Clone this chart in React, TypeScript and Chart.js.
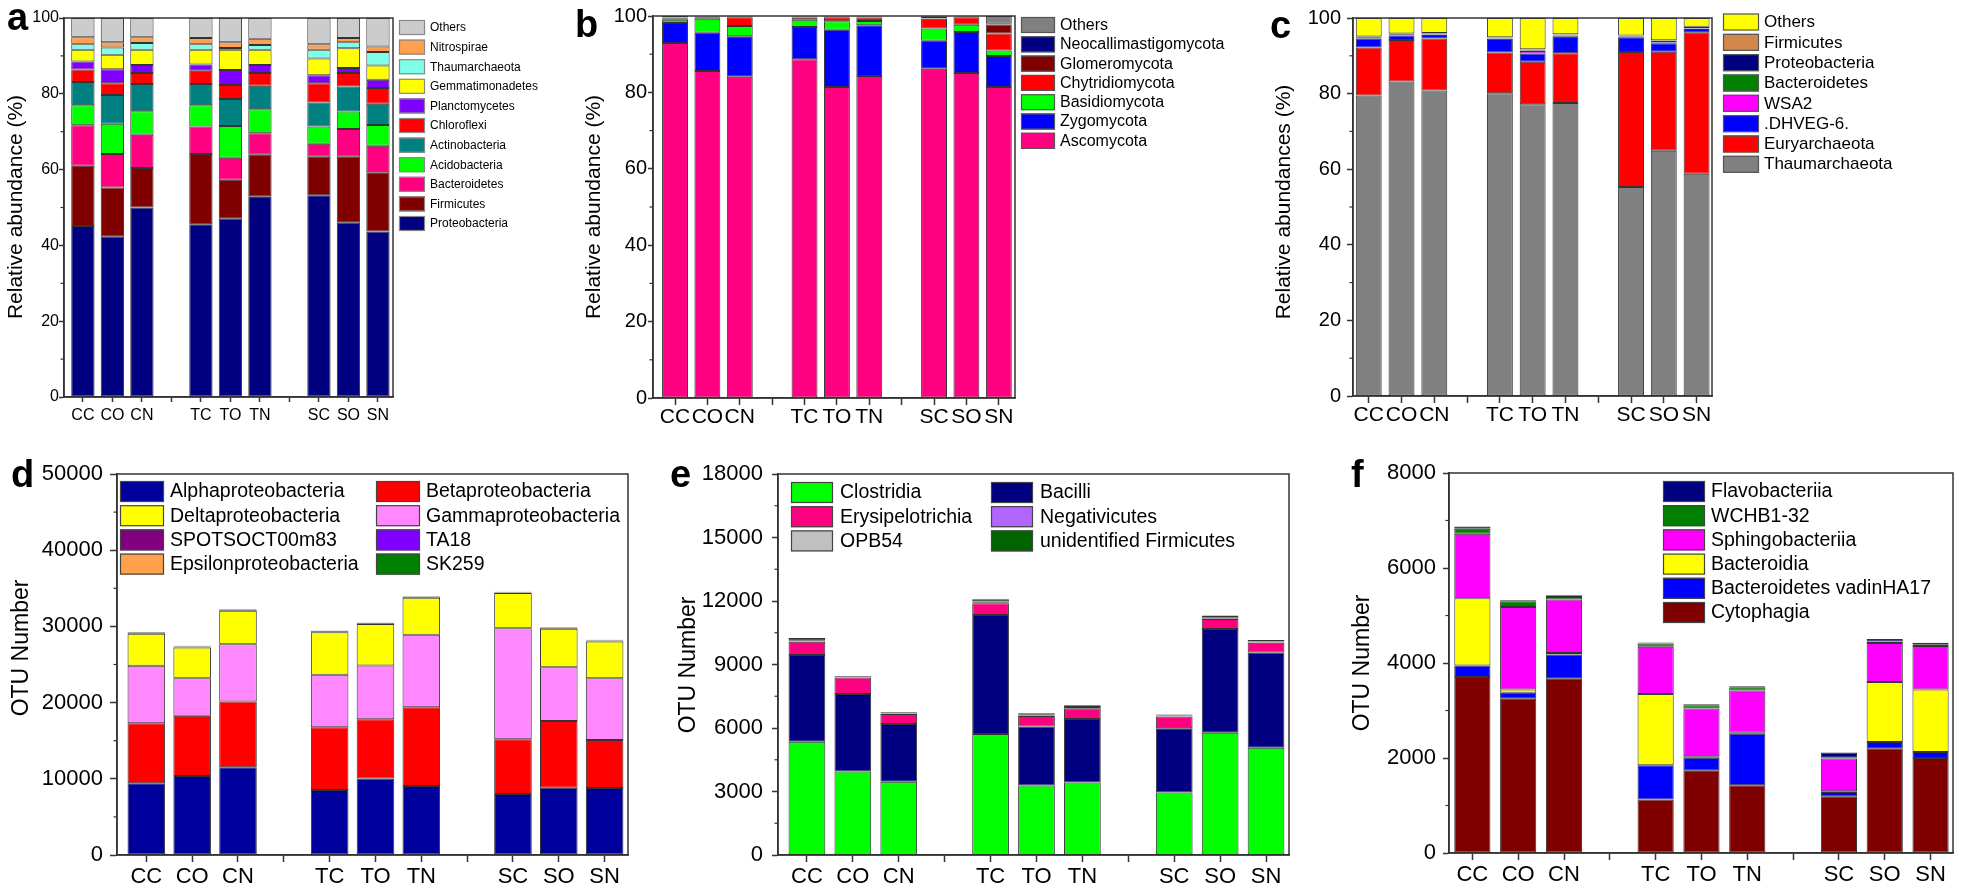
import React, { useEffect, useRef } from 'react';
import Chart from 'chart.js/auto';

// ---------- shared categories ----------
const tickLabels = ['CC', 'CO', 'CN', '', 'TC', 'TO', 'TN', '', 'SC', 'SO', 'SN'];
const positions: number[] = tickLabels
  .map((l, i) => (l ? i + 1 : -1))
  .filter((v) => v > 0);

// ---------- panel a (bacterial phyla, %) ----------
const aProteobacteria = [45.1, 42.3, 50.0, 45.6, 47.0, 53.0, 53.2, 46.0, 43.7];
const aFirmicutes = [15.9, 13.0, 10.4, 18.5, 10.3, 10.9, 10.2, 17.4, 15.6];
const aBacteroidetes = [10.7, 8.8, 8.8, 7.3, 5.8, 5.7, 3.4, 7.3, 7.0];
const aAcidobacteria = [5.3, 8.0, 6.2, 5.6, 8.4, 6.3, 4.6, 4.6, 5.5];
const aActinobacteria = [6.1, 7.6, 7.2, 5.6, 7.1, 6.2, 6.3, 6.6, 5.6];
const aChloroflexi = [3.3, 3.1, 2.9, 3.5, 3.7, 3.4, 5.1, 3.6, 4.1];
const aPlanctomycetes = [2.1, 3.7, 2.1, 1.6, 4.0, 2.1, 2.1, 1.3, 2.2];
const aGemmatimonadetes = [3.1, 3.8, 4.0, 3.9, 5.3, 4.0, 4.4, 5.2, 3.8];
const aThaumarchaeota = [1.5, 1.9, 1.8, 1.5, 0.5, 1.3, 2.3, 1.6, 3.5];
const aNitrospirae = [1.8, 1.4, 1.5, 1.6, 1.5, 1.6, 1.5, 1.1, 1.5];
const aOthers = [5.1, 6.4, 5.1, 5.3, 6.4, 5.5, 6.9, 5.3, 7.5];

// ---------- panel b (fungal phyla, %) ----------
const bAscomycota = [92.9, 85.6, 84.1, 88.7, 81.4, 84.3, 86.2, 85.1, 81.4];
const bZygomycota = [5.3, 10.0, 10.6, 8.4, 15.0, 13.3, 7.3, 10.7, 8.1];
const bBasidiomycota = [0.8, 3.7, 2.7, 1.9, 2.2, 1.1, 3.2, 1.9, 1.5];
const bChytridiomycota = [0.3, 0.4, 2.3, 0.6, 1.1, 0.9, 2.6, 2.0, 4.4];
const bGlomeromycota = [0.3, 0.1, 0.1, 0.2, 0.1, 0.2, 0.1, 0.1, 2.4];
const bNeocallimastigomycota = [0.1, 0.05, 0.1, 0.1, 0.1, 0.1, 0.4, 0.1, 0.2];
const bOthers = [0.3, 0.15, 0.1, 0.1, 0.1, 0.1, 0.2, 0.1, 2.0];

// ---------- panel c (archaeal, %) ----------
const cThaumarchaeota = [79.5, 83.2, 80.8, 80.1, 77.2, 77.5, 55.3, 64.9, 58.8];
const cEuryarchaeota = [12.7, 11.0, 13.8, 10.8, 11.2, 13.2, 35.7, 26.2, 37.4];
const cDHVEG6 = [2.4, 1.2, 0.9, 3.6, 2.2, 4.5, 3.9, 2.2, 0.9];
const cWSA2 = [0.1, 0.1, 0.1, 0.1, 0.7, 0.1, 0.1, 0.1, 0.1];
const cBacteroidetes = [0.1, 0.1, 0.1, 0.1, 0.1, 0.1, 0.1, 0.1, 0.1];
const cProteobacteria = [0.2, 0.2, 0.2, 0.1, 0.2, 0.2, 0.2, 0.5, 0.3];
const cFirmicutes = [0.1, 0.1, 0.1, 0.1, 0.1, 0.1, 0.1, 0.1, 0.1];
const cOthers = [4.9, 4.1, 4.0, 5.1, 8.3, 4.3, 4.6, 5.9, 2.3];

// ---------- panel d (Proteobacteria classes, OTU) ----------
const dAlpha = [9410, 10380, 11520, 8540, 10030, 9060, 8010, 8840, 8800];
const dBeta = [7880, 7880, 8620, 8230, 7790, 10330, 7180, 8760, 6300];
const dGamma = [7530, 4950, 7530, 6870, 7050, 9500, 14580, 7050, 8100];
const dDelta = [4200, 4030, 4380, 5600, 5430, 4860, 4600, 5040, 4820];
const dSPOTSOCT = [130, 120, 120, 120, 120, 120, 90, 120, 120];
const dTA18 = [40, 40, 40, 40, 40, 40, 30, 40, 40];
const dEpsilon = [20, 20, 20, 20, 20, 20, 15, 20, 20];
const dSK259 = [70, 40, 40, 40, 40, 40, 40, 40, 40];

// ---------- panel e (Firmicutes classes, OTU) ----------
const eClostridia = [5350, 3940, 3460, 5720, 3280, 3420, 2950, 5780, 5070];
const eBacilli = [4100, 3670, 2730, 5620, 2790, 3010, 3040, 4900, 4500];
const eErysipelotrichia = [630, 770, 470, 550, 500, 500, 550, 470, 460];
const eNegativicutes = [20, 15, 15, 30, 20, 20, 15, 25, 20];
const eOPB54 = [50, 25, 25, 60, 40, 45, 30, 55, 40];
const eUnidentified = [100, 40, 40, 100, 65, 75, 50, 90, 65];

// ---------- panel f (Bacteroidetes classes, OTU) ----------
const fCytophagia = [3705, 3250, 3670, 1125, 1740, 1425, 1195, 2195, 2000];
const fVadinHA17 = [245, 125, 510, 725, 265, 1085, 90, 140, 125];
const fBacteroidia = [1415, 65, 30, 1495, 30, 20, 15, 1265, 1315];
const fSphingobacteriia = [1355, 1740, 1125, 995, 1005, 890, 690, 820, 920];
const fWCHB = [105, 120, 55, 70, 70, 70, 15, 35, 35];
const fFlavobacteriia = [50, 20, 35, 20, 20, 20, 110, 50, 30];

// ---------- styling ----------
const FONT = "'Liberation Sans', Arial, Helvetica, sans-serif";

type Series = { label: string; values: number[]; color: string };
type Legend = {
  order: number[]; x: number; y: number; cols: number; colW: number; rowH: number;
  boxW: number; boxH: number; textOff: number; font: string; stroke: string;
};
type Panel = {
  letter: string;
  canvas: [number, number, number, number];
  plot: [number, number, number, number];
  xRange: [number, number];
  yMax: number; yStep: number; yMinor: number;
  barPct: number;
  series: Series[];
  xFont: { family: string; size: number };
  yFont: { family: string; size: number };
  xTl: number; xPad: number; yTl: number; yPad: number;
  title: string; titlePos: [number, number]; titleFont: string;
  letterPos: [number, number];
  legend: Legend;
};

const rev = (n: number) => Array.from({ length: n }, (_, i) => n - 1 - i);

const panels: Panel[] = [
  {
    letter: 'a', canvas: [0, 0, 560, 445], plot: [64, 18, 393, 397], xRange: [0.36, 11.51],
    yMax: 100, yStep: 20, yMinor: 10, barPct: 0.79,
    series: [
      { label: 'Proteobacteria', values: aProteobacteria, color: '#000080' },
      { label: 'Firmicutes', values: aFirmicutes, color: '#800000' },
      { label: 'Bacteroidetes', values: aBacteroidetes, color: '#FF0080' },
      { label: 'Acidobacteria', values: aAcidobacteria, color: '#00FF00' },
      { label: 'Actinobacteria', values: aActinobacteria, color: '#008080' },
      { label: 'Chloroflexi', values: aChloroflexi, color: '#FF0000' },
      { label: 'Planctomycetes', values: aPlanctomycetes, color: '#8000FF' },
      { label: 'Gemmatimonadetes', values: aGemmatimonadetes, color: '#FFFF00' },
      { label: 'Thaumarchaeota', values: aThaumarchaeota, color: '#80FFE8' },
      { label: 'Nitrospirae', values: aNitrospirae, color: '#FFA050' },
      { label: 'Others', values: aOthers, color: '#CCCCCC' },
    ],
    xFont: { family: FONT, size: 16 }, yFont: { family: FONT, size: 16 },
    xTl: 5, xPad: 4, yTl: 5, yPad: 0,
    title: 'Relative abundance (%)', titlePos: [16.5, 207], titleFont: `21px ${FONT}`,
    letterPos: [7, 30],
    legend: { order: rev(11), x: 399, y: 20, cols: 1, colW: 0, rowH: 19.6, boxW: 26, boxH: 15, textOff: 31, font: `12px ${FONT}`, stroke: '#888' },
  },
  {
    letter: 'b', canvas: [560, 0, 690, 445], plot: [653, 16, 1015, 398], xRange: [0.32, 11.5],
    yMax: 100, yStep: 20, yMinor: 10, barPct: 0.8,
    series: [
      { label: 'Ascomycota', values: bAscomycota, color: '#FF0080' },
      { label: 'Zygomycota', values: bZygomycota, color: '#0000FF' },
      { label: 'Basidiomycota', values: bBasidiomycota, color: '#00FF00' },
      { label: 'Chytridiomycota', values: bChytridiomycota, color: '#FF0000' },
      { label: 'Glomeromycota', values: bGlomeromycota, color: '#800000' },
      { label: 'Neocallimastigomycota', values: bNeocallimastigomycota, color: '#000080' },
      { label: 'Others', values: bOthers, color: '#808080' },
    ],
    xFont: { family: FONT, size: 21 }, yFont: { family: FONT, size: 20 },
    xTl: 7, xPad: 0, yTl: 5, yPad: 1,
    title: 'Relative abundance (%)', titlePos: [594, 207], titleFont: `21px ${FONT}`,
    letterPos: [575, 37],
    legend: { order: rev(7), x: 1021, y: 17, cols: 1, colW: 0, rowH: 19.3, boxW: 34, boxH: 16, textOff: 39, font: `16px ${FONT}`, stroke: '#555' },
  },
  {
    letter: 'c', canvas: [1250, 0, 711, 445], plot: [1353, 13, 1712, 396], xRange: [0.52, 11.47],
    yMax: 100, yStep: 20, yMinor: 10, barPct: 0.79,
    series: [
      { label: 'Thaumarchaeota', values: cThaumarchaeota, color: '#808080' },
      { label: 'Euryarchaeota', values: cEuryarchaeota, color: '#FF0000' },
      { label: '.DHVEG-6.', values: cDHVEG6, color: '#0000FF' },
      { label: 'WSA2', values: cWSA2, color: '#FF00FF' },
      { label: 'Bacteroidetes', values: cBacteroidetes, color: '#008000' },
      { label: 'Proteobacteria', values: cProteobacteria, color: '#000080' },
      { label: 'Firmicutes', values: cFirmicutes, color: '#D2884A' },
      { label: 'Others', values: cOthers, color: '#FFFF00' },
    ],
    xFont: { family: FONT, size: 21 }, yFont: { family: FONT, size: 20 },
    xTl: 7, xPad: 0, yTl: 6, yPad: 6,
    title: 'Relative abundances (%)', titlePos: [1284, 202], titleFont: `21px ${FONT}`,
    letterPos: [1270, 38],
    legend: { order: rev(8), x: 1723, y: 13.5, cols: 1, colW: 0, rowH: 20.33, boxW: 36, boxH: 17, textOff: 41, font: `17px ${FONT}`, stroke: '#555' },
  },
  {
    letter: 'd', canvas: [0, 445, 640, 445], plot: [117, 474, 628, 855], xRange: [0.36, 11.51],
    yMax: 50000, yStep: 10000, yMinor: 5000, barPct: 0.82,
    series: [
      { label: 'Alphaproteobacteria', values: dAlpha, color: '#00009C' },
      { label: 'Betaproteobacteria', values: dBeta, color: '#FF0000' },
      { label: 'Gammaproteobacteria', values: dGamma, color: '#FF88FF' },
      { label: 'Deltaproteobacteria', values: dDelta, color: '#FFFF00' },
      { label: 'SPOTSOCT00m83', values: dSPOTSOCT, color: '#800080' },
      { label: 'TA18', values: dTA18, color: '#8000FF' },
      { label: 'Epsilonproteobacteria', values: dEpsilon, color: '#FFA04C' },
      { label: 'SK259', values: dSK259, color: '#008000' },
    ],
    xFont: { family: FONT, size: 22 }, yFont: { family: FONT, size: 22 },
    xTl: 7, xPad: 2, yTl: 7, yPad: 7,
    title: 'OTU Number', titlePos: [22, 648], titleFont: `23px ${FONT}`,
    letterPos: [11, 487],
    legend: { order: [0, 1, 3, 2, 4, 5, 6, 7], x: 120, y: 481, cols: 2, colW: 256, rowH: 24.2, boxW: 44, boxH: 21, textOff: 50, font: `19.5px ${FONT}`, stroke: '#444' },
  },
  {
    letter: 'e', canvas: [640, 445, 660, 445], plot: [778, 474, 1289, 855], xRange: [0.37, 11.5],
    yMax: 18000, yStep: 3000, yMinor: 1500, barPct: 0.8,
    series: [
      { label: 'Clostridia', values: eClostridia, color: '#00FF00' },
      { label: 'Bacilli', values: eBacilli, color: '#000080' },
      { label: 'Erysipelotrichia', values: eErysipelotrichia, color: '#FF0080' },
      { label: 'Negativicutes', values: eNegativicutes, color: '#B266FF' },
      { label: 'OPB54', values: eOPB54, color: '#C0C0C0' },
      { label: 'unidentified Firmicutes', values: eUnidentified, color: '#006400' },
    ],
    xFont: { family: FONT, size: 22 }, yFont: { family: FONT, size: 22 },
    xTl: 7, xPad: 2, yTl: 6, yPad: 9,
    title: 'OTU Number', titlePos: [689, 665], titleFont: `23px ${FONT}`,
    letterPos: [670, 487],
    legend: { order: [0, 1, 2, 3, 4, 5], x: 791, y: 482, cols: 2, colW: 200, rowH: 24.2, boxW: 42, boxH: 21, textOff: 49, font: `19.5px ${FONT}`, stroke: '#444' },
  },
  {
    letter: 'f', canvas: [1300, 445, 661, 445], plot: [1449, 473, 1953, 853], xRange: [0.49, 11.49],
    yMax: 8000, yStep: 2000, yMinor: 1000, barPct: 0.79,
    series: [
      { label: 'Cytophagia', values: fCytophagia, color: '#800000' },
      { label: 'Bacteroidetes vadinHA17', values: fVadinHA17, color: '#0000FF' },
      { label: 'Bacteroidia', values: fBacteroidia, color: '#FFFF00' },
      { label: 'Sphingobacteriia', values: fSphingobacteriia, color: '#FF00FF' },
      { label: 'WCHB1-32', values: fWCHB, color: '#008000' },
      { label: 'Flavobacteriia', values: fFlavobacteriia, color: '#000080' },
    ],
    xFont: { family: FONT, size: 22 }, yFont: { family: FONT, size: 22 },
    xTl: 7, xPad: 2, yTl: 6, yPad: 7,
    title: 'OTU Number', titlePos: [1363, 663], titleFont: `23px ${FONT}`,
    letterPos: [1351, 487],
    legend: { order: rev(6), x: 1663, y: 481, cols: 1, colW: 0, rowH: 24.2, boxW: 42, boxH: 21, textOff: 48, font: `19.5px ${FONT}`, stroke: '#444' },
  },
];

// ---------- decoration plugin: frame, minor ticks, legend, titles ----------
const decoPlugin = {
  id: 'panelDeco',
  afterDraw(chart: any, _args: any, opts: any) {
    const p: Panel = opts.panel;
    if (!p) return;
    const ctx = chart.ctx as CanvasRenderingContext2D;
    const ox = p.canvas[0];
    const oy = p.canvas[1];
    const { left, top, right, bottom } = chart.chartArea;
    ctx.save();
    // frame
    ctx.strokeStyle = '#333';
    ctx.lineWidth = 1.5;
    ctx.strokeRect(left, top, right - left, bottom - top);
    // minor ticks
    const ys = chart.scales.y;
    ctx.lineWidth = 1.2;
    for (let v = p.yMinor; v < p.yMax; v += p.yMinor * 2) {
      const py = ys.getPixelForValue(v);
      ctx.beginPath();
      ctx.moveTo(left, py);
      ctx.lineTo(left - 3.5, py);
      ctx.stroke();
    }
    // legend
    const lg = p.legend;
    ctx.font = lg.font;
    ctx.textBaseline = 'middle';
    ctx.textAlign = 'left';
    lg.order.forEach((di, i) => {
      const ds = chart.data.datasets[di];
      const col = i % lg.cols;
      const row = Math.floor(i / lg.cols);
      const bx = lg.x - ox + col * lg.colW;
      const by = lg.y - oy + row * lg.rowH;
      ctx.fillStyle = ds.backgroundColor;
      ctx.fillRect(bx, by, lg.boxW, lg.boxH);
      ctx.strokeStyle = lg.stroke;
      ctx.lineWidth = 1.2;
      ctx.strokeRect(bx + 0.5, by + 0.5, lg.boxW - 1, lg.boxH - 1);
      ctx.fillStyle = '#000';
      ctx.fillText(ds.label, bx + lg.textOff, by + lg.boxH / 2 + 0.5);
    });
    // y title
    ctx.save();
    ctx.translate(p.titlePos[0] - ox, p.titlePos[1] - oy);
    ctx.rotate(-Math.PI / 2);
    ctx.font = p.titleFont;
    ctx.fillStyle = '#000';
    ctx.textAlign = 'center';
    ctx.textBaseline = 'middle';
    ctx.fillText(p.title, 0, 0);
    ctx.restore();
    // panel letter
    ctx.font = `bold 38px ${FONT}`;
    ctx.fillStyle = '#000';
    ctx.textAlign = 'left';
    ctx.textBaseline = 'alphabetic';
    ctx.fillText(p.letter, p.letterPos[0] - ox, p.letterPos[1] - oy);
    ctx.restore();
  },
};

function PanelChart({ p }: { p: Panel }) {
  const ref = useRef<HTMLCanvasElement | null>(null);
  useEffect(() => {
    if (!ref.current) return;
    const [cx, cy, cw, ch] = p.canvas;
    const [px0, py0, px1, py1] = p.plot;
    const yAxisW = px0 - cx;
    const xAxisH = cy + ch - py1;
    const chart = new Chart(ref.current, {
      type: 'bar',
      data: {
        datasets: p.series.map((s) => ({
          label: s.label,
          data: positions.map((x, i) => ({ x, y: s.values[i] })),
          backgroundColor: s.color,
          borderColor: '#333',
          borderWidth: 1,
          borderSkipped: false,
          barPercentage: 1,
          categoryPercentage: p.barPct,
        })),
      },
      options: {
        responsive: false,
        maintainAspectRatio: false,
        animation: false,
        devicePixelRatio: 1,
        events: [],
        layout: { padding: { left: 0, top: py0 - cy, right: cx + cw - px1, bottom: 0 } },
        plugins: {
          legend: { display: false },
          tooltip: { enabled: false },
          title: { display: false },
          panelDeco: { panel: p },
        } as any,
        scales: {
          x: {
            type: 'linear',
            min: p.xRange[0],
            max: p.xRange[1],
            offset: false,
            stacked: true,
            afterBuildTicks: (s: any) => {
              s.ticks = tickLabels.map((_, i) => ({ value: i + 1 }));
            },
            afterFit: (s: any) => {
              s.height = xAxisH;
            },
            ticks: {
              callback: (_v: any, i: number) => tickLabels[i],
              autoSkip: false,
              maxRotation: 0,
              minRotation: 0,
              padding: p.xPad,
              color: '#000',
              font: { family: p.xFont.family, size: p.xFont.size },
            },
            grid: {
              display: true,
              drawOnChartArea: false,
              drawTicks: true,
              offset: false,
              tickLength: p.xTl,
              tickColor: '#333',
              tickWidth: 1.5,
            },
            border: { display: true, color: '#333', width: 1.5 },
          },
          y: {
            type: 'linear',
            min: 0,
            max: p.yMax,
            stacked: true,
            afterFit: (s: any) => {
              s.width = yAxisW;
            },
            ticks: {
              stepSize: p.yStep,
              callback: (v: any) => String(v),
              padding: p.yPad,
              color: '#000',
              font: { family: p.yFont.family, size: p.yFont.size },
            },
            grid: {
              display: true,
              drawOnChartArea: false,
              drawTicks: true,
              tickLength: p.yTl,
              tickColor: '#333',
              tickWidth: 1.5,
            },
            border: { display: true, color: '#333', width: 1.5 },
          },
        } as any,
      },
      plugins: [decoPlugin],
    } as any);
    return () => chart.destroy();
  }, [p]);
  const [cx, cy, cw, ch] = p.canvas;
  return (
    <canvas
      ref={ref}
      width={cw}
      height={ch}
      style={{ position: 'absolute', left: cx, top: cy, width: cw, height: ch }}
    />
  );
}

export default function App() {
  return (
    <div style={{ position: 'absolute', left: 0, top: 0, width: 1961, height: 890, background: '#fff', overflow: 'hidden' }}>
      {panels.map((p) => (
        <PanelChart key={p.letter} p={p} />
      ))}
    </div>
  );
}
